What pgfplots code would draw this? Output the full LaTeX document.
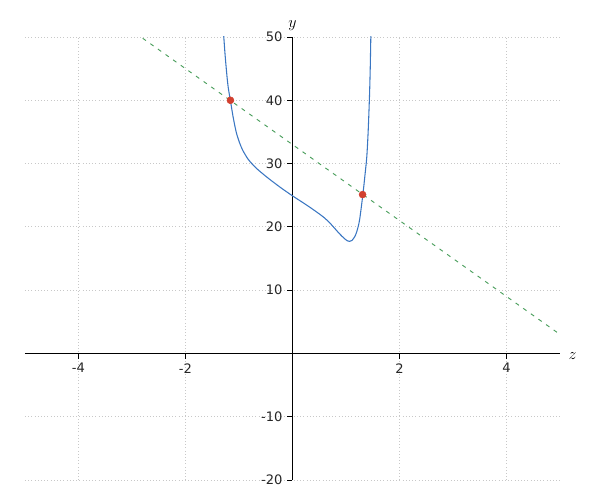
\documentclass[border=0pt]{standalone}
\usepackage{fontspec}
\setmainfont{DejaVu Sans}
\usepackage{pgfplots}
\pgfplotsset{compat=1.18}
\definecolor{curveblue}{HTML}{3A76C2}
\definecolor{linegreen}{HTML}{4A9E5C}
\definecolor{ptred}{HTML}{D2402F}
\definecolor{gridgray}{HTML}{C8C8C8}
\definecolor{ticktext}{HTML}{262626}
\begin{document}
\begin{tikzpicture}
\useasboundingbox (-18.75pt,-15pt) rectangle (431.25pt,360pt);
\begin{axis}[
  at={(0,0)}, anchor=south west,
  scale only axis,
  width=401.25pt, height=332.25pt,
  xmin=-5, xmax=5, ymin=-20, ymax=50,
  axis lines=middle,
  axis line style={black, line width=0.8pt, -},
  xtick={-4,-2,2,4},
  ytick={-20,-10,10,20,30,40,50},
  tick align=outside,
  major tick length=4pt,
  tick style={black, line width=0.6pt},
  grid=major,
  major grid style={gridgray, dotted, line width=0.6pt},
  ticklabel style={font=\fontsize{9.8}{11}\selectfont, text=ticktext},
  /pgf/number format/assume math mode=true,
  xlabel={$z$}, ylabel={$y$},
  xlabel style={at={(ticklabel* cs:1)}, anchor=west, xshift=3pt, yshift=-2pt, font=\large},
  ylabel style={at={(ticklabel* cs:1)}, anchor=south, yshift=1pt, font=\large},
  clip=true,
]
\addplot[linegreen, dashed, line width=0.7pt, dash pattern=on 3pt off 4pt] coordinates {(-2.8,49.8) (5,3)};
\addplot[curveblue, line width=0.8pt, smooth, tension=0.45] coordinates {
(-1.290,51) (-1.284,50) (-1.262,47.4) (-1.241,45.3) (-1.220,43.4) (-1.196,41.7) (-1.159,39.9)
(-1.115,37.6) (-1.053,35.0) (-0.990,33.3) (-0.930,32.1) (-0.835,30.75) (-0.740,29.8) (-0.648,29.05)
(-0.500,28.0) (-0.368,27.13) (-0.200,26.07) (0.000,24.9) (0.200,23.8) (0.350,22.95) (0.500,22.05)
(0.600,21.4) (0.700,20.6) (0.790,19.75) (0.880,18.9) (0.970,18.15) (1.020,17.82) (1.065,17.7) (1.110,17.85)
(1.160,18.4) (1.200,19.2) (1.252,21.0) (1.314,25.0) (1.355,28.2) (1.389,31.1)
(1.415,35.2) (1.439,40.6) (1.453,45.0) (1.464,50) (1.468,51.5)
};
\addplot[only marks, mark=*, mark size=2.6pt, ptred, mark options={draw=ptred, fill=ptred}] coordinates {(-1.16,40) (1.31,25.1)};
\end{axis}
\end{tikzpicture}
\end{document}
